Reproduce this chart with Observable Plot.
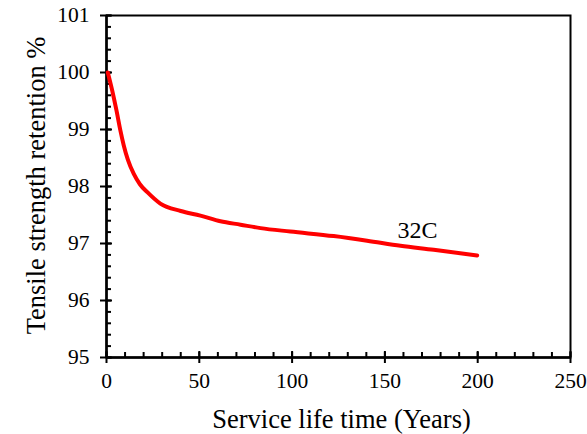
<!DOCTYPE html>
<html>
<head>
<meta charset="utf-8">
<script src="https://cdn.jsdelivr.net/npm/d3@7"></script>
<script src="https://cdn.jsdelivr.net/npm/@observablehq/plot@0.6"></script>
<style>
  html, body { margin: 0; padding: 0; background: #fff; }
  #chart svg { display: block; }
</style>
</head>
<body>
<div id="chart"></div>
<script>
const years = [0.7, 3.1, 5.4, 7.5, 9.3, 11.5, 14.7, 18, 22, 29, 40, 50.6, 61.4, 72.2, 83, 99, 122.4, 140.4, 158.4, 176.3, 199.7];
const retention = [100.0, 99.68, 99.33, 98.98, 98.72, 98.47, 98.22, 98.04, 97.9, 97.7, 97.57, 97.49, 97.39, 97.33, 97.27, 97.21, 97.13, 97.05, 96.96, 96.89, 96.79];
const seriesLabel = "32C";
const labelPos = {x: 167.6, y: 97.23};
const xTicks = [0, 50, 100, 150, 200, 250];
const yTicks = [95, 96, 97, 98, 99, 100, 101];
const xMinor = d3.range(0, 251, 10);
const yMinor = d3.range(95, 101.001, 0.2).map(v => +v.toFixed(1));
const xTitle = "Service life time (Years)";
const yTitle = "Tensile strength retention %";

const data = years.map((x, i) => ({x, y: retention[i]}));

const chart = Plot.plot({
  width: 587,
  height: 434,
  marginLeft: 106,
  marginRight: 17,
  marginTop: 15,
  marginBottom: 77,
  style: {fontFamily: "'Liberation Serif', 'Times New Roman', serif", background: "#fff", color: "#000"},
  x: {domain: [0, 250]},
  y: {domain: [95, 101]},
  marks: [
    Plot.frame({stroke: "#000", strokeWidth: 2}),
    Plot.ruleX([0], {stroke: "#000", strokeWidth: 2.5}),
    Plot.ruleY([95], {stroke: "#000", strokeWidth: 2.5}),
    // minor inward ticks
    Plot.axisY(yMinor, {anchor: "left", tickSize: -5, tickFormat: () => "", label: null, strokeWidth: 2}),
    Plot.axisX(xMinor, {anchor: "bottom", tickSize: -5, tickFormat: () => "", label: null, strokeWidth: 2}),
    // major inward part
    Plot.axisY(yTicks, {anchor: "left", tickSize: -6, tickFormat: () => "", label: null, strokeWidth: 2}),
    Plot.axisX(xTicks, {anchor: "bottom", tickSize: -6, tickFormat: () => "", label: null, strokeWidth: 2}),
    // major outward ticks with labels
    Plot.axisY(yTicks, {anchor: "left", tickSize: 6, tickPadding: 11, fontSize: 21.5, label: null, strokeWidth: 2, tickFormat: d => String(d)}),
    Plot.axisX(xTicks, {anchor: "bottom", tickSize: 6, tickPadding: 9, fontSize: 21.5, label: null, strokeWidth: 2, tickFormat: d => String(d)}),
    Plot.line(data, {x: "x", y: "y", stroke: "#ff0000", strokeWidth: 4, curve: "monotone-x"}),
    Plot.text([labelPos], {x: "x", y: "y", text: () => seriesLabel, fontSize: 24, fill: "#000"}),
    Plot.text([xTitle], {frameAnchor: "bottom", textAnchor: "middle", lineAnchor: "middle", dy: 62, dx: 3, fontSize: 26.5, fill: "#000"}),
    Plot.text([yTitle], {frameAnchor: "left", textAnchor: "middle", lineAnchor: "middle", rotate: -90, dx: -70, dy: -1, fontSize: 26.5, fill: "#000"})
  ]
});
document.getElementById("chart").appendChild(chart);
</script>
</body>
</html>
